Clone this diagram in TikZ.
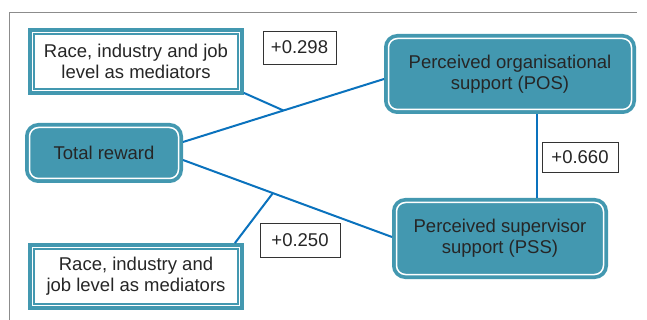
\documentclass[tikz,border=0pt]{standalone}
\usepackage{fontspec}
\setmainfont{Liberation Sans}
\usetikzlibrary{calc}
\definecolor{tealfill}{HTML}{4398B0}
\definecolor{linkblue}{HTML}{0A72BD}
\definecolor{framegray}{HTML}{8C8C8C}
\definecolor{txt}{HTML}{262626}
\begin{document}
\begin{tikzpicture}[x=1pt,y=-1pt,
  every node/.style={font=\fontsize{18.5}{20.7}\selectfont, text=txt, align=center, inner sep=0pt},
  medbox/.style={rectangle, fill=white, draw=tealfill, line width=1.5pt, double=white, double distance=1.8pt,
    preaction={draw=tealfill, line width=8.8pt}, outer sep=4.4pt, minimum width=207pt, minimum height=58pt},
  rbox/.style={rectangle, rounded corners=9pt, fill=tealfill, draw=white, line width=1.5pt,
    preaction={draw=tealfill, line width=9pt}, outer sep=4.5pt},
  lbl/.style={rectangle, draw=black!80, line width=0.8pt, fill=white, minimum width=73pt, minimum height=33pt},
  link/.style={draw=linkblue, line width=2pt}
]
\useasboundingbox (0,0) rectangle (647,320);
\draw[framegray, line width=1pt] (9,320) -- (9,13) -- (637,13);

\node[medbox] (med1) at (136,61.5) {Race, industry and job\\level as mediators};
\node[medbox] (med2) at (136,276.5) {Race, industry and\\job level as mediators};
\node[rbox, minimum width=149pt, minimum height=51pt] (tr) at (104,153) {Total reward};
\node[rbox, minimum width=243pt, minimum height=71pt] (pos) at (510,74) {Perceived organisational\\support (POS)};
\node[rbox, minimum width=207pt, minimum height=72pt] (pss) at (500,238.5) {Perceived supervisor\\support (PSS)};

\coordinate (trA) at ([yshift=11pt]tr.east);
\coordinate (trB) at ([yshift=-7pt]tr.east);
\coordinate (posA) at ([yshift=-5pt]pos.west);
\coordinate (pssA) at ([yshift=1.5pt]pss.west);
\coordinate (j1) at ($(trA)!0.5!(posA)$);
\coordinate (j2) at ($(trB)!0.43!(pssA)$);
\coordinate (posB) at ([xshift=27pt]pos.south);

\draw[link] (trA) -- (posA);
\draw[link] ([yshift=2pt]med1.south east) -- (j1);
\draw[link] (trB) -- (pssA);
\draw[link] ([xshift=-9pt]med2.north east) -- (j2);
\draw[link] (posB) -- (posB |- pss.north);

\node[lbl] (l298) at (299.5,47.5) {+0.298};
\node[lbl, minimum width=76pt, minimum height=30pt] (l660) at (580,157) {+0.660};
\node[lbl, minimum width=80pt, minimum height=34pt] (l250) at (300,240) {+0.250};
\end{tikzpicture}
\end{document}
